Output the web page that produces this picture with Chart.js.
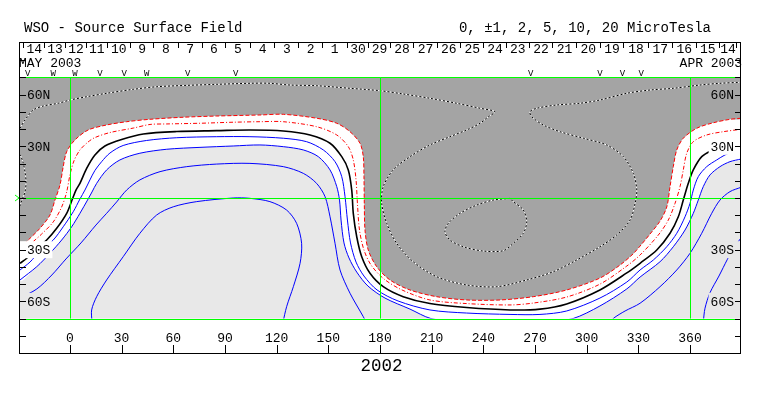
<!DOCTYPE html>
<html>
<head>
<meta charset="utf-8">
<script src="https://cdn.jsdelivr.net/npm/chart.js@4.4.1/dist/chart.umd.min.js"></script>
<style>
html,body{margin:0;padding:0;background:#ffffff;}
canvas{display:block;}
</style>
</head>
<body>
<canvas id="c" width="763" height="396"></canvas>
<script>
// ---------------- axis ranges ----------------
const LON_MIN = -29, LON_MAX = 389.6, LAT_MIN = -90, LAT_MAX = 90, PLOT_LAT = 70;

// ---------------- tick labels ----------------
const lonTicks = [0, 30, 60, 90, 120, 150, 180, 210, 240, 270, 300, 330, 360];
const latTicks = [-80, -70, -60, -50, -40, -30, -20, -10, 0, 10, 20, 30, 40, 50, 60, 70, 80];
const latLabelValues = [60, 30, -30, -60];
const latLabelTexts = ['60N', '30N', '30S', '60S'];
const gridLons = [0, 180, 360];
const gridLats = [70, 0, -70];

// Carrington day boundaries (longitude) and day numbers
const dayTickLons = [-27.1, -14.9, -2.9, 9.3, 21.3, 34.8, 48.4, 62.5, 76.5, 90.0, 104.5, 118.6, 132.6, 146.2, 160.7, 173.2,
  185.8, 199.3, 212.9, 226.5, 240.0, 253.0, 266.5, 280.0, 293.6, 307.6, 321.3, 335.4, 349.4, 363.3, 376.8, 386.7];
const dayLabels = ['14','13','12','11','10','9','8','7','6','5','4','3','2','1','30','29','28','27','26','25','24','23','22','21','20','19','18','17','16','15','14'];

// observation markers along the top
const markerLons = [-24.6, -9.7, 2.9, 17.4, 31.5, 44.5, 68.3, 96.2, 267.5, 307.7, 320.7, 331.6];
const markerTexts = ['V','W','W','V','V','W','V','V','V','V','V','V'];

// ---------------- contour lines [lon, lat] ----------------
// outer red contour (edge of dark region)
const outerRed = [[-29.0,-29.2],[-24.2,-24.4],[-17.4,-17.6],[-11.6,-9.9],[-8.7,-1.2],[-5.8,7.5],[-3.9,18.2],[-1.9,26.9],[2.9,33.7],[10.6,39.5],[21.3,42.4],[32.9,44.3],[46.5,45.7],[65.8,46.9],[85.2,47.6],[110.3,48.2],[123.9,48.6],[143.3,46.3],[154.9,43.4],[162.6,38.5],[168.4,31.8],[170.3,24.0],[170.7,12.4],[170.9,-3.1],[171.3,-18.6],[173.2,-30.2],[178.1,-39.9],[185.8,-47.6],[197.4,-53.4],[212.9,-57.3],[230.4,-59.2],[249.7,-59.2],[269.0,-57.3],[288.4,-53.4],[307.7,-46.5],[319.4,-38.9],[326.9,-32.5],[331.0,-27.9],[336.8,-20.9],[342.6,-13.4],[346.5,-5.2],[348.4,6.6],[350.3,18.2],[352.3,27.9],[356.1,34.7],[363.9,40.5],[373.6,43.7],[383.3,45.7],[389.6,46.3]];
// inner red contour
const innerRed = [[-29.0,-32.5],[-22.2,-26.1],[-16.4,-20.9],[-9.7,-13.9],[-4.8,-5.2],[-1.9,3.5],[0,13.4],[2.3,21.5],[5.8,27.9],[10.5,32.5],[14.5,35.1],[23.2,38.0],[36.8,40.6],[46.5,42.7],[56.2,43.0],[75.5,43.4],[94.8,44.0],[110.3,44.3],[123.9,44.3],[143.2,41.4],[154.9,36.6],[161.6,29.8],[164.5,22.1],[166.1,10.5],[166.9,-3.1],[168.1,-18.6],[170.7,-30.2],[174.8,-38.9],[182.3,-47.0],[192.8,-53.4],[209.0,-59.2],[230.3,-61.3],[255.5,-62.1],[269.0,-61.0],[288.4,-57.5],[307.7,-50.0],[323.3,-39.5],[331.0,-33.1],[341.6,-21.5],[347.4,-12.8],[351.3,-3.1],[354.2,6.6],[356.1,16.3],[358.1,26.0],[361.9,32.7],[369.7,36.6],[379.3,38.5],[389.6,39.9]];
// neutral line (0)
const neutralLine = [[-29.0,-37.9],[-25.1,-35.0],[-19.7,-29.6],[-13.5,-24.4],[-7.7,-17.6],[-1.9,-8.9],[1.2,-1.2],[3.5,4.6],[5.8,8.5],[9.7,17.2],[14.5,25.0],[20.3,30.2],[30.0,34.0],[42.6,37.2],[62.0,38.6],[85.2,39.1],[104.5,39.5],[123.9,38.9],[139.4,36.6],[151.0,31.8],[157.8,24.0],[161.6,16.3],[163.6,4.6],[164.5,-8.9],[166.5,-22.5],[169.4,-34.1],[174.2,-43.7],[181.9,-51.5],[193.5,-57.3],[209.0,-61.3],[230.3,-63.6],[255.5,-65.0],[272.9,-64.5],[288.4,-61.5],[307.7,-53.4],[323.3,-43.5],[331.0,-37.9],[340.7,-30.2],[348.4,-20.5],[353.2,-10.9],[356.1,-1.2],[359.0,8.5],[361.9,16.3],[366.8,24.0],[372.6,27.6],[376.3,28.5]];
// positive contours (blue)
const blue1 = [[-29.0,-41.8],[-23.2,-37.2],[-17.4,-30.8],[-9.7,-24.4],[-3.9,-16.7],[1.9,-8.0],[5.8,-0.6],[8.7,4.6],[11.6,10.5],[14.5,16.0],[18.4,21.1],[23.2,26.1],[30.9,30.5],[44.5,33.4],[62.0,35.0],[85.2,35.6],[104.5,35.6],[123.9,34.7],[137.4,32.7],[147.1,27.9],[153.9,21.1],[157.8,12.4],[159.7,0.8],[161.1,-12.8],[162.9,-26.1],[166.1,-37.2],[170.7,-45.3],[178.3,-53.4],[190.5,-59.8],[209.0,-65.0],[230.3,-66.8],[255.5,-67.6],[272.9,-67.6],[288.4,-65.6],[307.7,-58.1],[323.3,-48.8],[331.0,-41.8],[338.7,-36.0],[346.5,-28.3],[352.3,-20.5],[357.1,-10.9],[360.0,-3.1],[361.9,4.6],[364.8,12.4],[369.7,18.2],[375.5,22.1],[380.3,25.0],[384.4,26.7]];
const blue2 = [[-29.0,-47.6],[-19.3,-39.9],[-11.6,-32.1],[-4.8,-24.4],[1.0,-16.7],[5.8,-8.9],[10.2,-1.2],[12.8,3.5],[15.5,8.5],[21.3,16.3],[29.0,22.1],[40.6,26.0],[56.2,28.3],[75.5,29.4],[94.8,30.2],[110.3,30.8],[123.9,29.8],[135.5,27.9],[144.2,24.0],[151.0,16.3],[154.9,6.6],[156.5,-1.2],[157.4,-12.8],[159.1,-26.1],[162.0,-34.8],[166.5,-43.0],[173.0,-51.1],[182.9,-58.1],[197.4,-64.5],[209.6,-70.0],[226.5,-72.0],[249.7,-72.6],[278.7,-71.4],[292.1,-70.0],[307.7,-62.7],[323.3,-52.8],[331.0,-45.9],[342.6,-37.0],[350.3,-28.3],[357.1,-18.6],[361.9,-8.9],[364.8,-1.2],[367.7,6.6],[371.6,13.4],[377.4,18.2],[383.2,21.1],[389.6,22.6]];
const blue3Left = [[-29.0,-58.1],[-19.2,-52.8],[-10.5,-44.7],[-2.3,-35.4],[6.4,-26.1],[15.1,-15.7],[21.3,-8.9],[27.1,-2.3],[32.9,4.6],[40.6,10.5],[52.3,15.3],[67.8,18.2],[85.2,19.7],[104.5,20.1],[123.9,18.2],[135.5,14.3],[143.2,8.5],[148.1,0.8],[151.0,-10.9],[153.9,-26.3],[156.8,-41.8],[162.6,-55.3],[170.3,-68.9],[171.9,-72.0]];
const blue3Right = [[314.1,-72.0],[315.5,-69.9],[322.3,-65.6],[331.0,-61.1],[342.6,-51.5],[352.3,-41.8],[360.0,-32.1],[366.8,-20.5],[372.6,-8.9],[377.4,-1.2],[383.2,3.7],[389.6,6.2]];
const blue4Left = [[12.8,-72.0],[12.6,-65.0],[15.5,-57.3],[21.3,-47.6],[30.9,-34.1],[40.6,-20.5],[50.3,-9.9],[60.0,-5.1],[73.6,-2.1],[94.8,0.0],[104.5,-0.2],[116.1,-2.1],[125.8,-7.0],[131.6,-14.7],[134.5,-26.3],[133.6,-37.9],[129.7,-51.5],[125.8,-63.1],[123.7,-72.0]];
const blue4Right = [[389.6,-23.2],[385.0,-29.6],[381.7,-35.6],[376.8,-45.3],[371.6,-55.0],[368.7,-64.0],[367.7,-72.0]];
// negative contours (dotted)
const negMain = [[-29.0,40.5],[-26.1,45.3],[-21.3,51.1],[-15.5,53.4],[-6.8,55.0],[0,56.9],[9.7,58.8],[21.3,60.8],[36.8,63.1],[50.3,64.6],[67.8,65.4],[85.2,66.0],[104.5,66.6],[116.1,66.6],[127.7,65.6],[143.2,65.2],[162.6,63.7],[180.0,62.3],[193.5,60.4],[209.0,57.9],[224.5,55.0],[238.1,52.1],[246.8,50.1],[242.9,47.2],[238.1,43.4],[230.3,39.5],[220.6,35.6],[209.0,30.8],[197.4,24.0],[187.7,16.3],[181.9,6.6],[181.0,-3.1],[183.9,-14.7],[189.7,-26.3],[199.3,-37.0],[212.9,-45.7],[230.3,-50.5],[247.8,-51.5],[265.2,-47.6],[280.6,-42.8],[294.2,-36.0],[307.7,-28.3],[317.4,-21.5],[325.2,-12.8],[328.1,-3.1],[329.1,4.6],[327.1,14.3],[321.3,24.0],[311.6,30.8],[298.1,34.7],[284.5,38.5],[274.8,42.4],[268.1,47.2],[267.1,50.1],[271.0,52.1],[282.6,54.0],[296.1,55.0],[307.7,56.9],[323.3,60.8],[336.8,62.7],[350.3,63.7],[365.8,65.6],[377.4,66.6],[389.6,67.2]];
const negEdge = [[-29.0,25.5],[-27.3,20.9],[-26.1,15.1],[-25.5,9.3],[-26.1,3.5],[-27.9,-1.2],[-29.0,-4.6]];
const negLoop = [[255.5,-0.2],[245.8,-1.2],[236.2,-4.1],[226.5,-8.9],[219.7,-14.7],[217.7,-19.6],[220.6,-24.4],[228.4,-28.3],[240.0,-30.8],[251.6,-30.6],[257.4,-26.3],[263.2,-20.5],[265.2,-13.8],[263.2,-7.0],[257.4,-2.1],[255.5,-0.2]];

// ---------------- styles ----------------
const FONT = '"Liberation Mono", "DejaVu Sans Mono", monospace';
const COLORS = {dark: '#a4a4a4', light: '#e8e8e8', white: '#ffffff', green: '#00ff00', blue: '#0000ff', red: '#ff0000', black: '#000000'};
const PLOT_CLIP = -((LAT_MAX - PLOT_LAT) / (LAT_MAX - LAT_MIN)) * 310;

const pts = a => a.map(p => ({x: p[0], y: p[1]}));

function lineDS(data, color, extra) {
  return Object.assign({
    type: 'line', data: pts(data), borderColor: color, borderWidth: 1, pointRadius: 0,
    pointHoverRadius: 0, fill: false, tension: 0.3,
    clip: {left: 0, right: 0, top: PLOT_CLIP, bottom: PLOT_CLIP}, order: 10
  }, extra || {});
}
function polyDS(boundary, color, order) {
  const ring = [[LON_MIN, PLOT_LAT]].concat(boundary).concat([[LON_MAX, PLOT_LAT]]);
  return {type: 'line', data: pts(ring), backgroundColor: color, borderColor: 'rgba(0,0,0,0)', borderWidth: 0,
    pointRadius: 0, pointHoverRadius: 0, fill: 'shape', tension: 0.3, order: order};
}

const datasets = [
  polyDS(blue2, COLORS.white, 100),
  polyDS(outerRed, COLORS.dark, 90),
  lineDS(negMain, COLORS.white, {order: 60}),
  lineDS(negMain, COLORS.black, {order: 59, borderDash: [2, 2]}),
  lineDS(negEdge, COLORS.white, {order: 60}),
  lineDS(negEdge, COLORS.black, {order: 59, borderDash: [2, 2]}),
  lineDS(negLoop, COLORS.white, {order: 60}),
  lineDS(negLoop, COLORS.black, {order: 59, borderDash: [2, 2]}),
  lineDS(outerRed, COLORS.red, {order: 40, borderDash: [4, 2]}),
  lineDS(innerRed, COLORS.red, {order: 39, borderDash: [4, 2, 1, 2]}),
  lineDS(blue1, COLORS.blue, {order: 30}),
  lineDS(blue2, COLORS.blue, {order: 30}),
  lineDS(blue3Left, COLORS.blue, {order: 30}),
  lineDS(blue3Right, COLORS.blue, {order: 30}),
  lineDS(blue4Left, COLORS.blue, {order: 30}),
  lineDS(blue4Right, COLORS.blue, {order: 30}),
  lineDS(neutralLine, COLORS.black, {order: 20, borderWidth: 1.6})
];

function modeColor(ctx, x, y, w, h) {
  const d = ctx.getImageData(Math.round(x), Math.round(y), Math.max(1, Math.round(w)), Math.max(1, Math.round(h))).data;
  const m = new Map(); let best = 0xffffff, bc = 0;
  for (let i = 0; i < d.length; i += 4) {
    const k = (d[i] << 16) | (d[i + 1] << 8) | d[i + 2];
    const c = (m.get(k) || 0) + 1; m.set(k, c);
    if (c > bc) { bc = c; best = k; }
  }
  return '#' + best.toString(16).padStart(6, '0');
}

const deco = {
  id: 'deco',
  beforeDatasetsDraw(chart) {
    const {ctx, scales: {x, y}} = chart;
    ctx.save();
    ctx.fillStyle = COLORS.light;
    const l = x.getPixelForValue(LON_MIN), r = x.getPixelForValue(LON_MAX);
    const t = y.getPixelForValue(PLOT_LAT), b = y.getPixelForValue(-PLOT_LAT);
    ctx.fillRect(l, t, r - l, b - t);
    ctx.restore();
  },
  afterDatasetsDraw(chart) {
    const {ctx, chartArea: a, scales: {x, y}} = chart;
    const L = a.left, R = a.right, T = a.top, B = a.bottom;
    const sx = v => x.getPixelForValue(v), sy = v => y.getPixelForValue(v);
    const crisp = v => Math.round(v) + 0.5;
    ctx.save();
    // green reference lines
    ctx.strokeStyle = COLORS.green; ctx.lineWidth = 1;
    ctx.beginPath();
    gridLons.forEach(v => { const px = crisp(sx(v)); ctx.moveTo(px, sy(PLOT_LAT)); ctx.lineTo(px, sy(-PLOT_LAT)); });
    gridLats.forEach(v => { const py = crisp(sy(v)); ctx.moveTo(L, py); ctx.lineTo(R, py); });
    ctx.stroke();
    // green equator marker outside left border
    ctx.beginPath();
    ctx.moveTo(L - 5, sy(0) - 3); ctx.lineTo(L - 1, sy(0)); ctx.lineTo(L - 5, sy(0) + 3);
    ctx.stroke();

    // label boxes (background taken from the local shading)
    ctx.font = '13px ' + FONT;
    const boxes = [];
    latLabelValues.forEach((v, i) => {
      const txt = latLabelTexts[i];
      const w = ctx.measureText(txt).width;
      const py = sy(v);
      boxes.push({x: L, y: py - 8.5, w: 7 + w + 2, h: 17, txt, side: 'left', py});
      boxes.push({x: R - 7 - w - 2, y: py - 8.5, w: 7 + w + 2, h: 17, txt, side: 'right', py});
    });
    boxes.forEach(b => { b.color = modeColor(ctx, b.x + 1, b.y, b.w - 1, b.h); });
    boxes.forEach(b => { ctx.fillStyle = b.color; ctx.fillRect(b.x, b.y, b.w, b.h); });

    // ticks
    ctx.strokeStyle = COLORS.black; ctx.lineWidth = 1;
    ctx.beginPath();
    latTicks.forEach(v => { const py = crisp(sy(v)); ctx.moveTo(L, py); ctx.lineTo(L + 6, py); ctx.moveTo(R - 6, py); ctx.lineTo(R, py); });
    lonTicks.forEach(v => { const px = crisp(sx(v)); ctx.moveTo(px, B); ctx.lineTo(px, B - 8); });
    dayTickLons.forEach(v => { const px = crisp(sx(v)); ctx.moveTo(px, T); ctx.lineTo(px, T + 5); });
    ctx.stroke();
    // frame
    ctx.strokeRect(L - 0.5, T - 0.5, R - L, B - T + 1);

    ctx.fillStyle = COLORS.black;
    ctx.textBaseline = 'alphabetic';
    // latitude labels
    ctx.font = '13px ' + FONT;
    boxes.forEach(b => {
      if (b.side === 'left') { ctx.textAlign = 'left'; ctx.fillText(b.txt, L + 7, b.py + 4.5); }
      else { ctx.textAlign = 'right'; ctx.fillText(b.txt, R - 7, b.py + 4.5); }
    });
    // longitude labels
    ctx.textAlign = 'center';
    lonTicks.forEach(v => ctx.fillText(String(v), sx(v), B - 11));
    // day numbers
    dayLabels.forEach((t, i) => ctx.fillText(t, (sx(dayTickLons[i]) + sx(dayTickLons[i + 1])) / 2 + 0.5, T + 9.5));
    ctx.textAlign = 'left';
    ctx.fillText('MAY 2003', L - 1, T + 23.5);
    ctx.textAlign = 'right';
    ctx.fillText('APR 2003', R + 1, T + 23.5);
    // markers
    ctx.font = '9px ' + FONT;
    ctx.textAlign = 'center';
    markerLons.forEach((v, i) => ctx.fillText(markerTexts[i], sx(v), sy(PLOT_LAT) - 1));
    // titles
    ctx.font = '14px ' + FONT;
    ctx.textAlign = 'left';
    ctx.fillText('WSO - Source Surface Field', 24, 32);
    ctx.textAlign = 'right';
    ctx.fillText('0, \u00b11, 2, 5, 10, 20 MicroTesla', 711, 32);
    ctx.font = '17.5px ' + FONT;
    ctx.textAlign = 'center';
    ctx.fillText('2002', (L + R) / 2 + 1, 371);
    ctx.restore();
  }
};

new Chart(document.getElementById('c'), {
  type: 'line',
  data: {datasets: datasets},
  options: {
    responsive: false,
    animation: false,
    devicePixelRatio: 1,
    events: [],
    layout: {padding: {left: 20, right: 22, top: 43, bottom: 43}},
    scales: {
      x: {type: 'linear', min: LON_MIN, max: LON_MAX, display: false},
      y: {type: 'linear', min: LAT_MIN, max: LAT_MAX, display: false}
    },
    plugins: {legend: {display: false}, tooltip: {enabled: false}}
  },
  plugins: [deco]
});
</script>
</body>
</html>
